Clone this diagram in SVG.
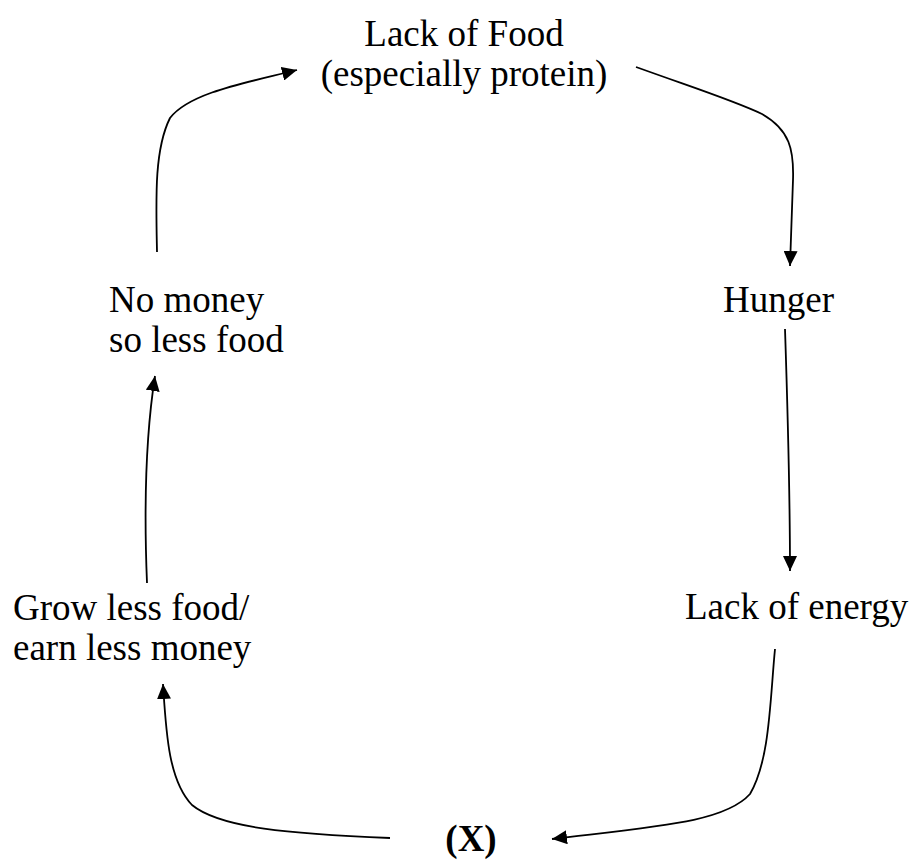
<svg xmlns="http://www.w3.org/2000/svg" width="914" height="860" viewBox="0 0 914 860">
<style>
.t{font-family:"Liberation Serif","Times New Roman",serif;font-size:37px;fill:#000}
.b{font-weight:bold}
.c{fill:none;stroke:#000;stroke-width:1.8;marker-end:url(#ah)}
</style>
<defs>
<marker id="ah" markerUnits="userSpaceOnUse" markerWidth="16" markerHeight="14" refX="15" refY="7" orient="auto">
<path d="M0,0 L15,7 L0,14 Z" fill="#000"/>
</marker>
</defs>
<rect width="914" height="860" fill="#fff"/>
<g id="connectors">
<path class="c" d="M157,252 C156,200 154,150 170,118 C190,92 250,82 297,70"/>
<path class="c" d="M636,67 C700,90 735,101 762,114 C790,130 794,150 793,180 C792,210 791,240 790,266"/>
<path class="c" d="M785,329 C788,420 790,500 790,571"/>
<path class="c" d="M775,649 C770,700 770,760 750,794 C725,822 660,826 552,839"/>
<path class="c" d="M390,838 C290,834 220,828 192,805 C168,780 166,730 163,684"/>
<path class="c" d="M147,583 C144,510 145,440 155,376"/>
</g>
<g id="lack-of-food">
<text class="t" x="464" y="46" text-anchor="middle">Lack of Food</text>
<text class="t" x="464" y="86" text-anchor="middle">(especially protein)</text>
</g>
<g id="hunger">
<text class="t" x="723" y="312">Hunger</text>
</g>
<g id="lack-of-energy">
<text class="t" x="685" y="619">Lack of energy</text>
</g>
<g id="x">
<text class="t b" x="471" y="851" text-anchor="middle">(X)</text>
</g>
<g id="grow-less-food">
<text class="t" x="13" y="620">Grow less food/</text>
<text class="t" x="13" y="660">earn less money</text>
</g>
<g id="no-money">
<text class="t" x="109" y="312">No money</text>
<text class="t" x="109" y="352">so less food</text>
</g>
</svg>
